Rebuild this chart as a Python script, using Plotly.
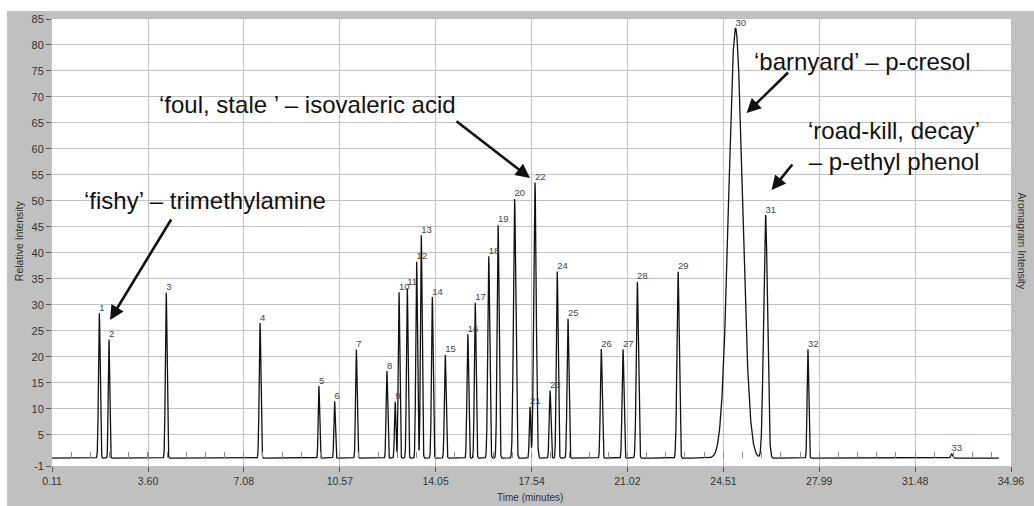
import numpy as np
import plotly.graph_objects as go

# ---------------- data ----------------
peak_labels = ["1", "2", "3", "4", "5", "6", "7", "8", "9", "10", "11", "12", "13",
               "14", "15", "16", "17", "18", "19", "20", "21", "22", "23", "24", "25",
               "26", "27", "28", "29", "30", "31", "32", "33"]
peak_times = [1.83, 2.18, 4.26, 7.67, 9.81, 10.38, 11.17, 12.28, 12.58, 12.72, 13.02,
              13.36, 13.53, 13.93, 14.40, 15.22, 15.49, 15.98, 16.32, 16.92, 17.48,
              17.66, 18.21, 18.47, 18.86, 20.07, 20.86, 21.38, 22.86, 24.95, 26.04,
              27.58, 32.80]
peak_heights = [28.4, 23.4, 32.4, 26.5, 14.4, 11.5, 21.4, 17.3, 11.4, 32.5, 33.3,
                38.4, 43.4, 31.5, 20.4, 24.4, 30.4, 39.4, 45.4, 50.4, 10.4, 53.6,
                13.5, 36.4, 27.4, 21.5, 21.5, 34.5, 36.4, 83.2, 47.3, 21.5, 1.4]
peak_sigmas = [0.030, 0.025, 0.030, 0.030, 0.025, 0.025, 0.028, 0.028, 0.025, 0.028,
               0.028, 0.030, 0.030, 0.030, 0.030, 0.030, 0.030, 0.035, 0.035, 0.042,
               0.025, 0.045, 0.030, 0.032, 0.032, 0.032, 0.032, 0.038, 0.040, 0.250,
               0.070, 0.028, 0.030]
baseline_level = 0.5
run_start, run_end = 0.11, 34.52

x_tick_vals = [0.11, 3.60, 7.08, 10.57, 14.05, 17.54, 21.02, 24.51, 27.99, 31.48, 34.96]
x_tick_text = ["0.11", "3.60", "7.08", "10.57", "14.05", "17.54", "21.02", "24.51",
               "27.99", "31.48", "34.96"]
y_tick_vals = [-1, 5, 10, 15, 20, 25, 30, 35, 40, 45, 50, 55, 60, 65, 70, 75, 80, 85]
y_tick_text = ["-1", "5", "10", "15", "20", "25", "30", "35", "40", "45", "50", "55",
               "60", "65", "70", "75", "80", "85"]

# odour annotations: text position and arrow tip (time, level)
odour_texts = ["‘fishy’ – trimethylamine", "‘foul, stale ’ – isovaleric acid",
               "‘barnyard’ – p-cresol", "‘road-kill, decay’<br>– p-ethyl phenol"]
odour_text_t = [5.68, 9.39, 29.58, 30.69]
odour_text_v = [50.0, 68.5, 76.8, 60.6]
arrow_tip_t = [2.22, 17.48, 25.35, 26.26]
arrow_tip_v = [27.1, 54.4, 66.9, 52.1]

# ---------------- build chromatogram trace from the peak table ----------------
t = np.arange(run_start, run_end, 0.004)
signal = np.full_like(t, baseline_level)
for tc, h, s in zip(peak_times, peak_heights, peak_sigmas):
    signal += (h - baseline_level) * np.exp(-0.5 * ((t - tc) / s) ** 2)

GRAY_BG = "#c0c0c0"
GRID = "#c2c2c2"
FONT = "Liberation Sans, Arial, sans-serif"

fig = go.Figure()
fig.add_trace(go.Scatter(x=t, y=signal, mode="lines",
                         line=dict(color="#111111", width=1.3),
                         hoverinfo="skip", showlegend=False))
fig.add_trace(go.Scatter(x=peak_times, y=peak_heights, mode="text", text=peak_labels,
                         textposition="top right",
                         textfont=dict(family=FONT, size=9.5, color="#444444"),
                         xaxis="x2", yaxis="y", hoverinfo="skip", showlegend=False))

xr = [0.11, 34.96]
fig.update_layout(
    width=1034, height=506,
    margin=dict(l=52, r=23, t=19, b=40, autoexpand=False),
    paper_bgcolor=GRAY_BG, plot_bgcolor="white",
    font=dict(family=FONT, color="#333333"),
    showlegend=False,
    xaxis=dict(range=xr, tickmode="array", tickvals=x_tick_vals, ticktext=x_tick_text,
               ticks="outside", ticklen=5, tickcolor="#555555",
               tickfont=dict(size=10.5, color="#333333"),
               showgrid=True, gridcolor=GRID, gridwidth=1, automargin=False,
               zeroline=False, showline=False, fixedrange=True),
    xaxis2=dict(range=xr, overlaying="x", anchor="free",
                position=(baseline_level + 1) / 86.0,
                tickmode="array", tickvals=x_tick_vals, ticks="inside", ticklen=6,
                tickcolor="#8a8a8a", showticklabels=False, showgrid=False,
                zeroline=False, showline=False, automargin=False,
                minor=dict(ticks="inside", ticklen=6, tick0=0.11, dtick=0.697,
                           tickcolor="#8a8a8a", showgrid=False)),
    yaxis=dict(range=[-1, 85], tickmode="array", tickvals=y_tick_vals,
               ticktext=y_tick_text, ticks="outside", ticklen=5, tickcolor="#555555",
               tickfont=dict(size=11, color="#333333"), automargin=False,
               showgrid=True, gridcolor=GRID, gridwidth=1,
               zeroline=False, showline=False, fixedrange=True),
)

# white strips at top and left of the grey frame
fig.add_shape(type="rect", xref="paper", yref="paper", x0=-0.06, x1=1.03,
              y0=1.0179, y1=1.05, fillcolor="white", line_width=0, layer="below")
fig.add_shape(type="rect", xref="paper", yref="paper", x0=-0.06, x1=-0.0469,
              y0=-0.1, y1=1.05, fillcolor="white", line_width=0, layer="below")

annotations = []
for txt, tx, tv in zip(odour_texts, odour_text_t, odour_text_v):
    annotations.append(dict(x=tx, y=tv, xref="x", yref="y", text=txt, showarrow=False,
                            font=dict(family=FONT, size=24, color="#111111"),
                            xanchor="center", yanchor="middle", align="center"))
arrow_offsets = [(62, -102), (-75, -58), (43, -42), (22, -27)]
for (at, av), (ax, ay) in zip(zip(arrow_tip_t, arrow_tip_v), arrow_offsets):
    annotations.append(dict(x=at, y=av, xref="x", yref="y", text="", showarrow=True,
                            ax=ax, ay=ay, arrowhead=2, arrowsize=1.1, arrowwidth=2.6,
                            arrowcolor="#111111", standoff=0))

annotations += [
    dict(text="Relative Intensity", xref="paper", yref="paper", x=-0.0345, y=0.505,
         textangle=-90, showarrow=False, font=dict(size=10.5, color="#333333"),
         xanchor="center", yanchor="middle"),
    dict(text="Aromagram Intensity", xref="paper", yref="paper", x=1.0112, y=0.503,
         textangle=90, showarrow=False, font=dict(size=10.5, color="#333333"),
         xanchor="center", yanchor="middle"),
    dict(text="Time (minutes)", xref="paper", yref="paper", x=0.4984, y=-0.0694,
         showarrow=False, font=dict(size=10, color="#333333"),
         xanchor="center", yanchor="middle"),
]
fig.update_layout(annotations=annotations)

fig.write_html("out.html",
               config={"displayModeBar": False, "staticPlot": True},
               post_script="document.body.style.margin='0';"
                           "document.body.style.overflow='hidden';")
